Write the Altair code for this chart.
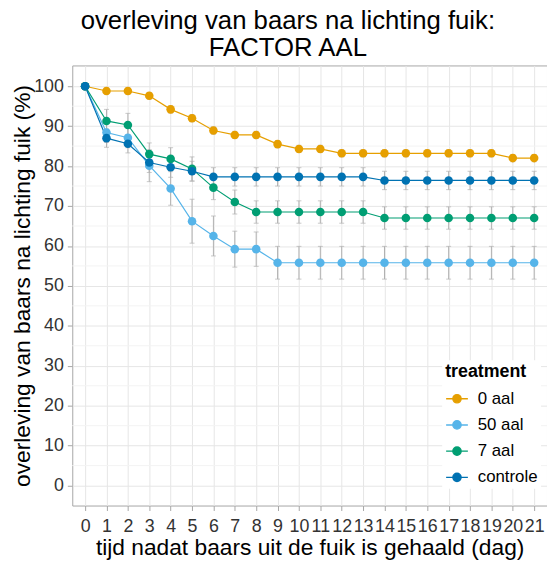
import altair as alt
import pandas as pd

days = list(range(22))
treatments = ["0 aal", "50 aal", "7 aal", "controle"]
colors = ["#E69F00", "#56B4E9", "#009E73", "#0072B2"]

val_0aal = [100, 98.8, 98.8, 97.6, 94.2, 92.0, 88.9, 87.8, 87.8, 85.5, 84.3, 84.3,
            83.2, 83.2, 83.2, 83.2, 83.2, 83.2, 83.2, 83.2, 82.0, 82.0]
val_50aal = [100, 88.4, 87.1, 80.1, 74.4, 66.2, 62.5, 59.2, 59.2, 55.8, 55.8, 55.8,
             55.8, 55.8, 55.8, 55.8, 55.8, 55.8, 55.8, 55.8, 55.8, 55.8]
val_7aal = [100, 91.3, 90.3, 83.0, 81.8, 79.3, 74.6, 71.0, 68.5, 68.5, 68.5, 68.5,
            68.5, 68.5, 67.0, 67.0, 67.0, 67.0, 67.0, 67.0, 67.0, 67.0]
val_controle = [100, 87.0, 85.6, 80.9, 79.7, 78.7, 77.3, 77.3, 77.3, 77.3, 77.3, 77.3,
                77.3, 77.3, 76.4, 76.4, 76.4, 76.4, 76.4, 76.4, 76.4, 76.4]

se_0aal = [0, 0.8, 0.8, 0.8, 0.9, 0.9, 0.9, 0.9, 0.9, 0.9, 0.9, 0.9,
           0.9, 0.9, 0.9, 0.9, 0.9, 0.9, 0.9, 0.9, 0.9, 0.9]
se_50aal = [0, 2.5, 2.5, 4.0, 4.2, 5.5, 5.0, 4.5, 4.3, 4.1, 4.1, 4.1,
            4.1, 4.1, 4.1, 4.1, 4.1, 4.1, 4.1, 4.1, 4.1, 4.1]
se_7aal = [0, 2.9, 2.9, 2.8, 2.8, 3.0, 3.0, 3.0, 2.8, 2.8, 2.8, 2.8,
           2.8, 2.8, 2.8, 2.8, 2.8, 2.8, 2.8, 2.8, 2.8, 2.8]
se_controle = [0, 2.3, 2.3, 2.5, 2.5, 2.5, 2.3, 2.3, 2.3, 2.3, 2.3, 2.3,
               2.3, 2.3, 2.3, 2.3, 2.3, 2.3, 2.3, 2.3, 2.3, 2.3]

y_major = [0, 10, 20, 30, 40, 50, 60, 70, 80, 90, 100]
y_minor = [5, 15, 25, 35, 45, 55, 65, 75, 85, 95]

rows = []
for name, vals, ses in zip(treatments,
                           [val_0aal, val_50aal, val_7aal, val_controle],
                           [se_0aal, se_50aal, se_7aal, se_controle]):
    for d, v, s in zip(days, vals, ses):
        rows.append({"day": d, "value": v, "lo": v - s, "hi": v + s, "treatment": name})
df = pd.DataFrame(rows)
df_minor = pd.DataFrame({"value": y_minor})

FONT = "Liberation Sans"
XTITLE = "tijd nadat baars uit de fuik is gehaald (dag)"
YTITLE = "overleving van baars na lichting fuik (%)"

xscale = alt.Scale(domain=[-0.6, 21.6], nice=False, zero=False)
yscale = alt.Scale(domain=[-5, 105.2], nice=False, zero=False)
xaxis = alt.Axis(values=days, title=XTITLE, labelOverlap=False, labelFlush=False,
                 labelPadding=7, titlePadding=2)
yaxis = alt.Axis(values=y_major, title=YTITLE, labelPadding=4, titlePadding=-1)


def X(field="day"):
    return alt.X(f"{field}:Q", scale=xscale, axis=xaxis)


def Y(field="value"):
    return alt.Y(f"{field}:Q", scale=yscale, axis=yaxis)


path = "M-1,0L1,0M-0.38,0A0.38,0.38,0,1,1,0.38,0A0.38,0.38,0,1,1,-0.38,0Z"
legend = alt.Legend(title="treatment", orient="none", legendX=374, legendY=298,
                    symbolType=path, symbolSize=484, symbolStrokeWidth=1.4,
                    labelOffset=9, rowPadding=6.5, titlePadding=6, padding=3,
                    fillColor="white", labelFontSize=17, titleFontSize=18,
                    titleFontWeight="bold", labelFont=FONT, titleFont=FONT,
                    labelColor="black", titleColor="black")
color_enc = alt.Color("treatment:N", scale=alt.Scale(domain=treatments, range=colors),
                      legend=legend)

minor = alt.Chart(df_minor).mark_rule(color="#f3f3f3", strokeWidth=1).encode(y=Y())

base = alt.Chart(df)
err = base.mark_rule(color="#b0b0b0", strokeWidth=1).encode(
    x=X(), y=Y("lo"), y2="hi:Q", detail="treatment:N")
cap_lo = base.mark_tick(color="#b0b0b0", orient="horizontal", size=5, thickness=1).encode(
    x=X(), y=Y("lo"), detail="treatment:N")
cap_hi = base.mark_tick(color="#b0b0b0", orient="horizontal", size=5, thickness=1).encode(
    x=X(), y=Y("hi"), detail="treatment:N")
lines = base.mark_line(strokeWidth=1.2).encode(x=X(), y=Y(), color=color_enc)
points = base.mark_circle(size=75, opacity=1).encode(x=X(), y=Y(), color=color_enc)

chart = alt.layer(minor, err, cap_lo, cap_hi, lines, points).properties(
    width=480, height=445,
    autosize=alt.AutoSizeParams(type="none"),
    padding={"left": 65, "top": 55, "right": 0, "bottom": 54},
    title=alt.TitleParams(text=["overleving van baars na lichting fuik:", "FACTOR AAL"],
                          fontSize=26, font=FONT, fontWeight="normal", anchor="middle",
                          frame="group", dx=-22, offset=-21, baseline="bottom",
                          lineHeight=27, color="black"),
).configure_view(stroke="#a6a6a6", strokeWidth=1).configure_axis(
    labelFont=FONT, titleFont=FONT, labelFontSize=18, titleFontSize=23,
    labelColor="#333333", titleColor="black", titleFontWeight="normal",
    tickColor="#a6a6a6", tickSize=5, domain=False,
    gridColor="#e6e6e6", gridWidth=1,
)

chart.save("out.html", embed_options={"renderer": "svg", "actions": False})
